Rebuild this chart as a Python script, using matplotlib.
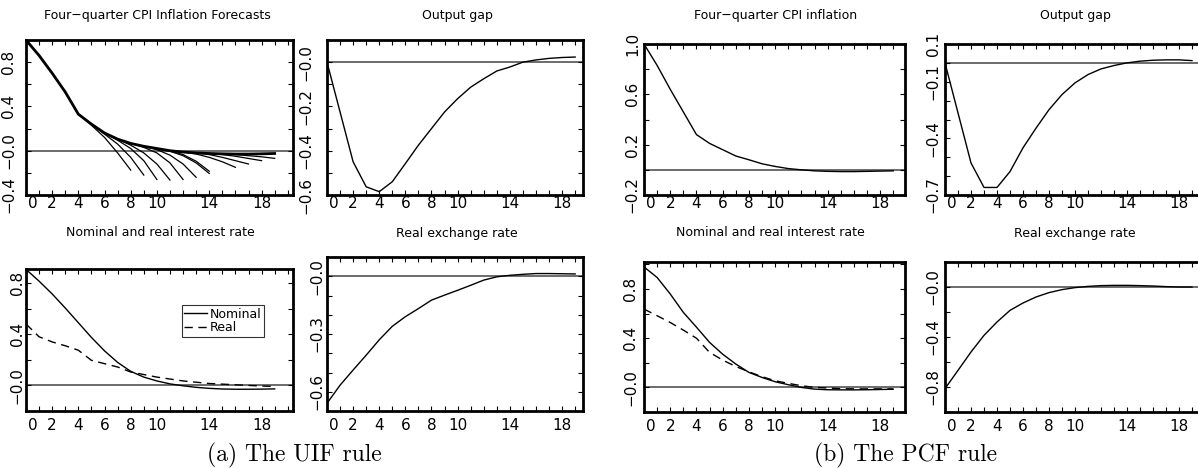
import matplotlib
matplotlib.use("Agg")
import matplotlib.pyplot as plt
from matplotlib.ticker import MultipleLocator

# quarters after the shock
quarters = list(range(20))

# (a) UIF rule
uif_infl_main = [1.0, 0.86, 0.70, 0.53, 0.33, 0.24, 0.16, 0.105, 0.066, 0.04,
                 0.02, 0.0, -0.012, -0.02, -0.025, -0.028, -0.03, -0.03, -0.028, -0.025]
uif_fc_start = [4, 5, 6, 7, 8, 9, 10, 10, 12, 13, 14, 15]
uif_fc_paths = [
    [0.33, 0.23, 0.12, -0.02, -0.175],
    [0.24, 0.15, 0.06, -0.06, -0.22],
    [0.16, 0.095, 0.02, -0.09, -0.26],
    [0.105, 0.05, -0.02, -0.12, -0.265],
    [0.066, 0.03, -0.02, -0.11, -0.26],
    [0.04, 0.01, -0.04, -0.12, -0.24],
    [0.02, -0.005, -0.045, -0.11, -0.205],
    [0.02, 0.0, -0.035, -0.095, -0.185],
    [-0.012, -0.03, -0.06, -0.10, -0.15],
    [-0.02, -0.035, -0.06, -0.09, -0.12],
    [-0.025, -0.035, -0.05, -0.07, -0.09],
    [-0.028, -0.035, -0.045, -0.055, -0.069],
]
uif_gap = [0.0, -0.225, -0.45, -0.563, -0.585, -0.54, -0.458, -0.375, -0.30, -0.225,
           -0.165, -0.113, -0.075, -0.04, -0.022, 0.0, 0.01, 0.017, 0.021, 0.023]
uif_nominal = [0.907, 0.815, 0.715, 0.605, 0.49, 0.375, 0.27, 0.18, 0.11, 0.065,
               0.035, 0.012, -0.003, -0.015, -0.023, -0.028, -0.03, -0.03, -0.029, -0.027]
uif_real = [0.48, 0.38, 0.34, 0.31, 0.275, 0.196, 0.17, 0.144, 0.105, 0.085,
            0.065, 0.05, 0.035, 0.025, 0.015, 0.01, 0.005, 0.0, -0.005, -0.008]
uif_rer = [-0.66, -0.566, -0.487, -0.41, -0.33, -0.26, -0.21, -0.168, -0.124, -0.098,
           -0.073, -0.047, -0.02, -0.003, 0.005, 0.01, 0.014, 0.014, 0.013, 0.012]

# (b) PCF rule
pcf_infl = [1.0, 0.83, 0.64, 0.46, 0.28, 0.21, 0.16, 0.11, 0.08, 0.048,
            0.027, 0.01, 0.0, -0.008, -0.012, -0.014, -0.014, -0.012, -0.01, -0.008]
pcf_gap = [0.0, -0.265, -0.53, -0.66, -0.66, -0.576, -0.45, -0.346, -0.248, -0.168,
           -0.106, -0.062, -0.032, -0.014, 0.0, 0.009, 0.014, 0.016, 0.016, 0.012]
pcf_nominal = [0.98, 0.894, 0.76, 0.61, 0.49, 0.366, 0.27, 0.19, 0.122, 0.081,
               0.046, 0.022, 0.0, -0.014, -0.019, -0.02, -0.02, -0.019, -0.017, -0.015]
pcf_real = [0.637, 0.583, 0.528, 0.466, 0.40, 0.285, 0.222, 0.17, 0.127, 0.087,
            0.054, 0.033, 0.014, 0.0, -0.005, -0.01, -0.012, -0.012, -0.012, -0.012]
pcf_rer = [-0.813, -0.667, -0.52, -0.387, -0.28, -0.187, -0.128, -0.08, -0.045, -0.021,
           -0.005, 0.005, 0.011, 0.013, 0.013, 0.011, 0.008, 0.003, 0.0, 0.0]

x_labels = ["0", "2", "4", "6", "8", "10", "14", "18"]
x_label_pos = [0.55, 2, 4, 6, 8, 10, 14, 18]

W, H = 1198, 468
fig = plt.figure(figsize=(W / 100, H / 100), dpi=100)


def make_axes(x0, x1, y0, y1):
    return fig.add_axes([x0 / W, 1 - y1 / H, (x1 - x0) / W, (y1 - y0) / H])


def style(ax, xmax, ylim, yticks, ylabels, ystep, ypad, xpad):
    ax.set_xlim(0, xmax)
    ax.set_ylim(*ylim)
    ax.axhline(0, color="#444444", lw=1.1, zorder=1)
    for s in ax.spines.values():
        s.set_linewidth(2.0)
    ax.set_xticks(x_label_pos, x_labels)
    ax.set_yticks(yticks, ylabels)
    ax.xaxis.set_minor_locator(MultipleLocator(1))
    ax.yaxis.set_minor_locator(MultipleLocator(ystep))
    ax.xaxis.remove_overlapping_locs = False
    ax.yaxis.remove_overlapping_locs = False
    ax.tick_params(which="major", length=0, labelsize=11)
    ax.tick_params(axis="x", which="major", pad=xpad)
    ax.tick_params(axis="y", which="major", pad=ypad)
    ax.tick_params(which="minor", direction="in", length=3.5, width=0.8,
                   top=True, bottom=True, left=True, right=True)
    for lab in ax.get_yticklabels():
        lab.set_rotation(90)
        lab.set_va("center")


def title(x, y, text):
    fig.text(x / W, 1 - y / H, text, ha="center", va="center", fontsize=9)


lw = 1.0

# panel 1: UIF inflation forecasts
ax = make_axes(26, 293, 40, 195)
for s0, path in zip(uif_fc_start, uif_fc_paths):
    ax.plot(quarters[s0:s0 + len(path)], path, color="black", lw=0.9)
ax.plot(quarters, uif_infl_main, color="black", lw=2.0)
style(ax, 20.4, (-0.4, 1.0), [0.8, 0.4, 0.0, -0.4], ["0.8", "0.4", "\u22120.0", "\u22120.4"], 0.2, 7, 0.5)
title(157, 15, "Four\u2212quarter CPI Inflation Forecasts")

# panel 2: UIF output gap
ax = make_axes(327, 583, 40, 195)
ax.plot(quarters, uif_gap, color="black", lw=lw)
style(ax, 19.6, (-0.6, 0.1), [0.0, -0.2, -0.4, -0.6],
      ["\u22120.0", "\u22120.2", "\u22120.4", "\u22120.6"], 0.1, 10, 0.5)
title(457, 15, "Output gap")

# panel 3: UIF interest rates
ax = make_axes(26, 293, 269, 411)
ax.plot(quarters, uif_nominal, color="black", lw=lw, label="Nominal")
ax.plot(quarters, uif_real, color="black", lw=lw, ls=(0, (6, 4)), label="Real")
style(ax, 20.4, (-0.2, 0.91), [0.8, 0.4, 0.0], ["0.8", "0.4", "\u22120.0"], 0.2, 1, 5)
leg = ax.legend(loc="upper left", bbox_to_anchor=(0.584, 0.746), fontsize=9,
                frameon=True, fancybox=False, borderpad=0.2, labelspacing=0.05,
                handlelength=1.8, handletextpad=0.2, borderaxespad=0)
leg.get_frame().set_edgecolor("black")
leg.get_frame().set_linewidth(0.8)
title(160, 232, "Nominal and real interest rate")

# panel 4: UIF real exchange rate
ax = make_axes(327, 583, 257, 411)
ax.plot(quarters, uif_rer, color="black", lw=lw)
style(ax, 19.6, (-0.70, 0.1), [0.0, -0.3, -0.6], ["\u22120.0", "\u22120.3", "\u22120.6"], 0.1, 2, 5)
title(457, 233, "Real exchange rate")

# panel 5: PCF inflation
ax = make_axes(644, 905, 44, 195)
ax.plot(quarters, pcf_infl, color="black", lw=lw)
style(ax, 19.9, (-0.2, 1.0), [1.0, 0.6, 0.2, -0.2], ["1.0", "0.6", "0.2", "\u22120.2"], 0.2, 3, 0.5)
title(776, 15, "Four\u2212quarter CPI inflation")

# panel 6: PCF output gap
ax = make_axes(945, 1205, 44, 195)
ax.plot(quarters, pcf_gap, color="black", lw=lw)
style(ax, 20.0, (-0.7, 0.1), [0.1, -0.1, -0.4, -0.7], ["0.1", "\u22120.1", "\u22120.4", "\u22120.7"], 0.1, 3, 0.5)
title(1075, 16, "Output gap")

# panel 7: PCF interest rates
ax = make_axes(644, 905, 262, 412)
ax.plot(quarters, pcf_nominal, color="black", lw=lw)
ax.plot(quarters, pcf_real, color="black", lw=lw, ls=(0, (6, 4)))
style(ax, 19.9, (-0.2, 1.02), [0.8, 0.4, 0.0], ["0.8", "0.4", "\u22120.0"], 0.2, 4, 5)
title(770, 233, "Nominal and real interest rate")

# panel 8: PCF real exchange rate
ax = make_axes(945, 1205, 262, 412)
ax.plot(quarters, pcf_rer, color="black", lw=lw)
style(ax, 20.0, (-1.0, 0.2), [0.0, -0.4, -0.8], ["\u22120.0", "\u22120.4", "\u22120.8"], 0.2, 3, 5)
title(1075, 233, "Real exchange rate")

# sub-captions
fig.text(294 / W, 1 - 455 / H, "(a) The UIF rule", ha="center", va="center",
         fontsize=17, family="cmr10")
fig.text(906 / W, 1 - 455 / H, "(b) The PCF rule", ha="center", va="center",
         fontsize=17, family="cmr10")

fig.savefig("out.png", dpi=100)
